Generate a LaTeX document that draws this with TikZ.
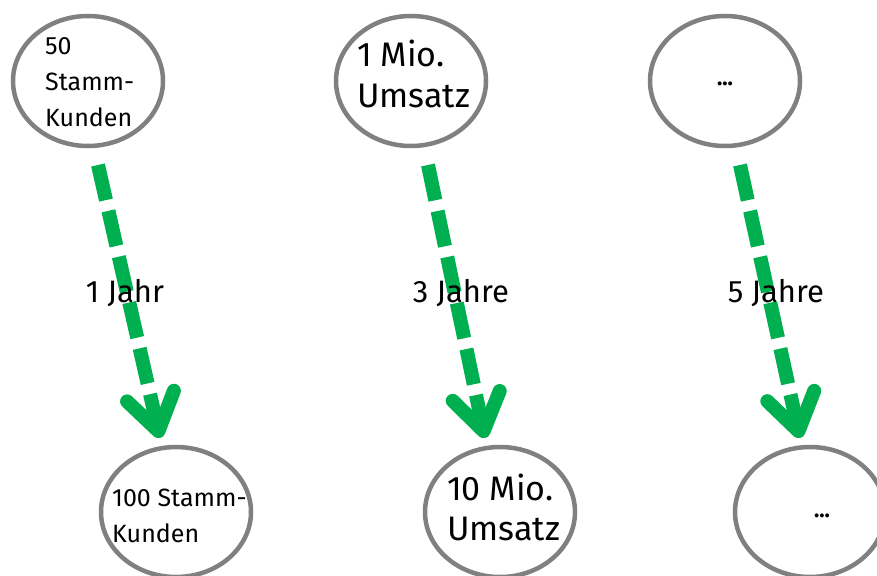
\documentclass[tikz,border=0pt]{standalone}
\usepackage{fontspec}
\setmainfont{Fira Sans}
\usetikzlibrary{arrows.meta,shapes.geometric}
\definecolor{ringgrey}{RGB}{128,128,128}
\definecolor{arrowgreen}{RGB}{0,176,80}
\begin{document}
\begin{tikzpicture}[x=1pt,y=-1pt,
  ring/.style={draw=ringgrey,line width=4.5pt,ellipse,minimum width=150pt,minimum height=130pt,inner sep=0pt},
  growarrow/.style={draw=arrowgreen,line width=14pt,dash pattern=on 36pt off 11pt,
     -{Straight Barb[length=36pt,width=48pt,round]}},
  smalltxt/.style={font=\fontsize{25}{36}\selectfont,align=left,inner sep=0pt},
  bigtxt/.style={font=\fontsize{34}{40}\selectfont,align=left,inner sep=0pt},
  steplabel/.style={font=\fontsize{31}{34}\selectfont,inner sep=0pt},
  dots/.style={font=\fontsize{22}{24}\selectfont\bfseries,inner sep=0pt}]
\useasboundingbox (0,0) rectangle (877,575);
\clip (0,0) rectangle (877,575);
% circles
\node[ring] (a1) at (88,81) {};
\node[ring] (a2) at (411,81) {};
\node[ring] (a3) at (725,81) {};
\node[ring] (b1) at (176,512) {};
\node[ring] (b2) at (500,512) {};
\node[ring] (b3) at (810,512) {};
% circle texts (anchored at the baseline of the last line)
\node[smalltxt,anchor=base west] (ta1) at (45,127) {50\\Stamm-\\Kunden};
\node[bigtxt,anchor=base west] (ta2) at (357,107) {1 Mio.\\Umsatz};
\node[dots] (ta3) at (725,84) {...};
\node[smalltxt,anchor=base west] (tb1) at (112,542) {100 Stamm-\\Kunden};
\node[bigtxt,anchor=base west] (tb2) at (447,540) {10 Mio.\\Umsatz};
\node[dots] (tb3) at (822,516) {...};
% arrow ends
\coordinate (s1) at (98,165);  \coordinate (e1) at (160,438);
\coordinate (s2) at (428,165); \coordinate (e2) at (485,438);
\coordinate (s3) at (740,165); \coordinate (e3) at (800,438);
\draw[growarrow] (s1) -- (e1);
\draw[growarrow] (s2) -- (e2);
\draw[growarrow] (s3) -- (e3);
% labels
\node[steplabel,anchor=base] (l1) at (125,302) {1 Jahr};
\node[steplabel,anchor=base] (l2) at (461,302) {3 Jahre};
\node[steplabel,anchor=base] (l3) at (776,302) {5 Jahre};
\end{tikzpicture}
\end{document}
